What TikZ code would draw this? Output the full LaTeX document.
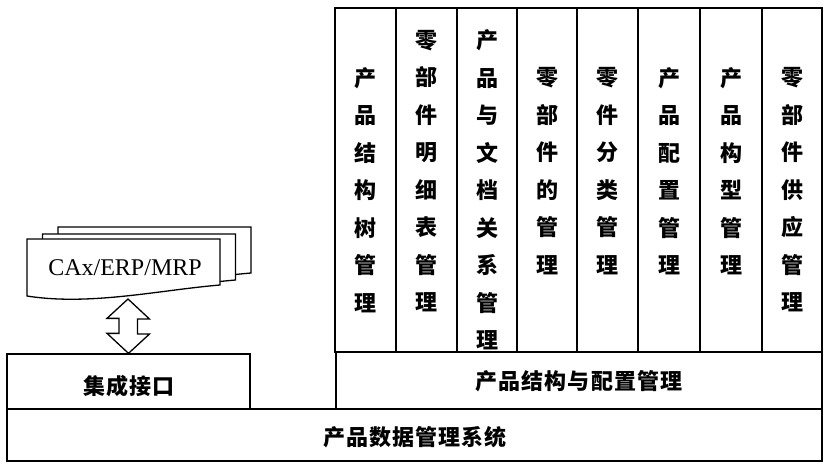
\documentclass[tikz,border=0pt]{standalone}
\usepackage{fontspec}
\setmainfont{Liberation Serif}
\newfontfamily\cjk{Noto Sans CJK SC}
\begin{document}
\begin{tikzpicture}[x=1pt,y=-1pt,line width=1.3pt,
  cjkv/.style={font=\cjk\bfseries\fontsize{22}{37.5}\selectfont,align=center,inner sep=0pt},
  cjkh/.style={font=\cjk\bfseries\fontsize{22}{25}\selectfont\addfontfeature{LetterSpace=5},inner sep=0pt},
  boxed/.style={draw,inner sep=0pt},
  docpage/.style={draw,fill=white,line join=miter}]
\useasboundingbox (0,0) rectangle (827,466);
% base system
\node[boxed,minimum width=815pt,minimum height=52pt] (pdm) at (414.5,435) {};
\node[cjkh] (pdmtxt) at (415,437) {产品数据管理系统};
% integration interface
\node[boxed,minimum width=243pt,minimum height=55pt] (intf) at (128.5,381.5) {};
\node[cjkh] (intftxt) at (129,386) {集成接口};
% structure & configuration band
\node[boxed,minimum width=486pt,minimum height=57pt] (band) at (579,380.5) {};
\node[cjkh] (bandtxt) at (579,381) {产品结构与配置管理};
% columns
\draw (335,8) rectangle (822,352);
\foreach \xx in {396,457,517,577,638,700,762} {\draw (\xx,8) -- (\xx,352);}
\node[cjkv] (c1) at (365.5,190) {产\\品\\结\\构\\树\\管\\理};
\node[cjkv] (c2) at (426.5,171.25) {零\\部\\件\\明\\细\\表\\管\\理};
\node[cjkv] (c3) at (487,190) {产\\品\\与\\文\\档\\关\\系\\管\\理};
\node[cjkv] (c4) at (547,171.25) {零\\部\\件\\的\\管\\理};
\node[cjkv] (c5) at (607.5,171.25) {零\\件\\分\\类\\管\\理};
\node[cjkv] (c6) at (669,171.25) {产\\品\\配\\置\\管\\理};
\node[cjkv] (c7) at (731,171.25) {产\\品\\构\\型\\管\\理};
\node[cjkv] (c8) at (792,190) {零\\部\\件\\供\\应\\管\\理};
% document stack
\foreach \dx/\dy in {31/-12,15.5/-5,0/0} {
  \draw[docpage,shift={(\dx,\dy)}] (27,239) -- (220,239) -- (220,285)
    .. controls (160,290) and (90,306) .. (27,296) -- cycle;
}
\node[inner sep=0pt] (cax) at (125,268) {\fontsize{24}{28}\selectfont CAx/ERP/MRP};
% double block arrow
\coordinate (atop) at (128,299);
\coordinate (abot) at (intf.north);
\draw[fill=white,line join=miter] (atop) -- ++(21.5,20) -- ++(-12,0) -- ++(0,15) -- ++(12,0)
  -- (abot) -- ++(-21.5,-20) -- ++(12,0) -- ++(0,-15) -- ++(-12,0) -- cycle;
\end{tikzpicture}
\end{document}
